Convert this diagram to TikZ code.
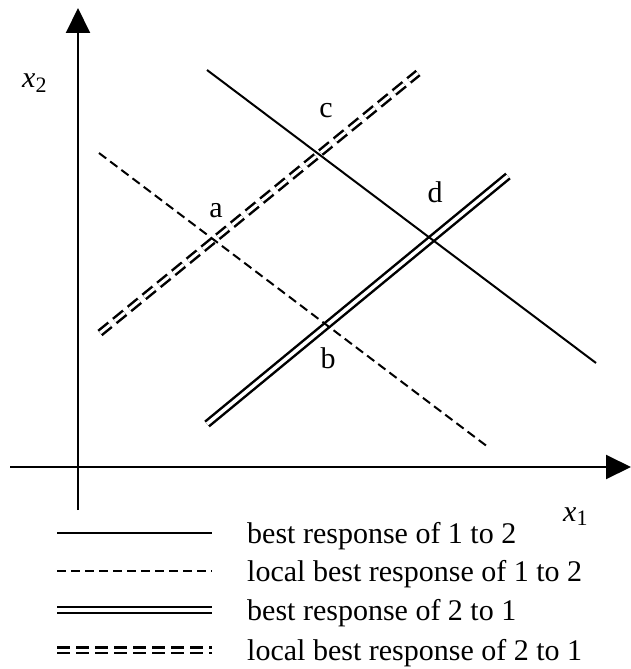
\documentclass[tikz,border=0pt]{standalone}
\usepackage{fontspec}
\setmainfont{Liberation Serif}
\usetikzlibrary{arrows.meta}
\tikzset{
  axis/.style={line width=2pt,-{Triangle[width=24pt,length=25pt]}},
  br12/.style={line width=2pt},
  lbr12/.style={line width=2pt,dash pattern=on 9pt off 5pt},
  br21/.style={double,double distance=3.5pt,line width=2.5pt},
  lbr21/.style={double,double distance=3pt,line width=2.5pt,dash pattern=on 13pt off 6pt},
  lbl/.style={font=\fontsize{30}{30}\selectfont,inner sep=0pt,anchor=base},
  leg/.style={font=\fontsize{30}{30}\selectfont,inner sep=0pt,anchor=base west}
}
\begin{document}
\begin{tikzpicture}[x=1pt,y=-1pt]
\useasboundingbox (0,0) rectangle (631,669);
% axes
\coordinate (yb) at (78,510);
\coordinate (yt) at (78,8);
\coordinate (xl) at (10,467);
\coordinate (xr) at (631,467);
\draw[axis] (yb) -- (yt);
\draw[axis] (xl) -- (xr);
% lines
\coordinate (s1) at (207,70);
\coordinate (s2) at (596,363);
\coordinate (t1) at (99,153);
\coordinate (t2) at (488,447);
\coordinate (d1) at (207,424);
\coordinate (d2) at (508,176);
\coordinate (e1) at (100,333);
\coordinate (e2) at (418,73);
\draw[br21] (d1) -- (d2);
\draw[lbr21] (e1) -- (e2);
\draw[br12] (s1) -- (s2);
\draw[lbr12] (t1) -- (t2);
% labels
\node[lbl] (la) at (216,217) {a};
\node[lbl] (lb) at (328,368) {b};
\node[lbl] (lc) at (326,117) {c};
\node[lbl] (ld) at (435,202) {d};
\node[inner sep=0pt,anchor=base west,font=\fontsize{30}{30}\selectfont] (xtwo) at (22,88) {\textit{x}\raisebox{-0.3ex}{\fontsize{22}{22}\selectfont 2}};
\node[inner sep=0pt,anchor=base west,font=\fontsize{30}{30}\selectfont] (xone) at (563,521) {\textit{x}\raisebox{-0.3ex}{\fontsize{22}{22}\selectfont 1}};
% legend
\coordinate (a1) at (57,533); \coordinate (a2) at (212,533);
\coordinate (b1) at (57,571); \coordinate (b2) at (212,571);
\coordinate (c1) at (57,610); \coordinate (c2) at (212,610);
\coordinate (f1) at (57,650); \coordinate (f2) at (212,650);
\draw[br12] (a1) -- (a2);
\draw[lbr12] (b1) -- (b2);
\draw[br21] (c1) -- (c2);
\draw[lbr21] (f1) -- (f2);
\node[leg] (ta) at (247,543) {best response of 1 to 2};
\node[leg] (tb) at (247,581) {local best response of 1 to 2};
\node[leg] (tc) at (247,620) {best response of 2 to 1};
\node[leg] (td) at (247,660) {local best response of 2 to 1};
\end{tikzpicture}
\end{document}
